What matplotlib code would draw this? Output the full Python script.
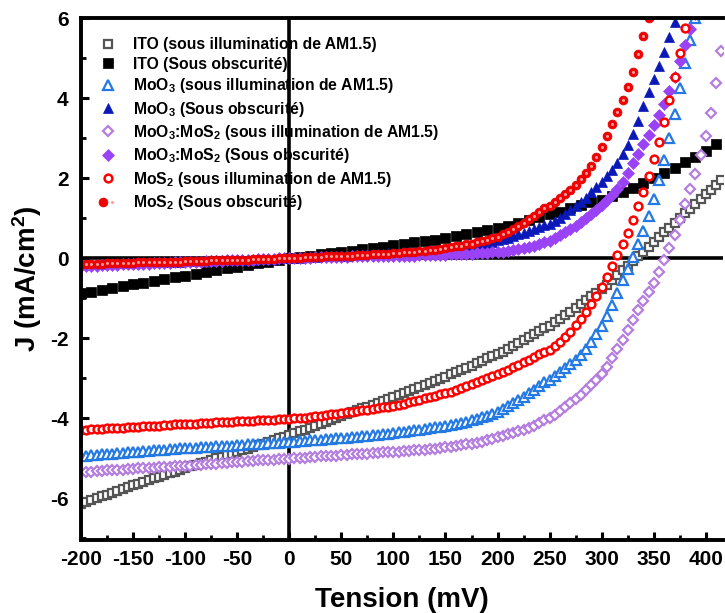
import numpy as np
import matplotlib
matplotlib.use("Agg")
import matplotlib.pyplot as plt
from matplotlib.legend_handler import HandlerTuple
from matplotlib.ticker import MultipleLocator

plt.rcParams['font.family'] = ['Liberation Sans', 'DejaVu Sans']
plt.rcParams['font.weight'] = 'bold'
plt.rcParams['axes.unicode_minus'] = False
plt.rcParams['mathtext.fontset'] = 'custom'
plt.rcParams['mathtext.rm'] = 'Liberation Sans:bold'
plt.rcParams['mathtext.it'] = 'Liberation Sans:bold'
plt.rcParams['mathtext.bf'] = 'Liberation Sans:bold'
plt.rcParams['mathtext.default'] = 'rm'

# voltage sweep (mV), 5 mV step; ITO dark curve was recorded every 10 mV
V5 = np.arange(-200, 420, 5)
V10 = np.arange(-200, 420, 10)

ito_light = [
    -6.15, -6.10, -6.06, -6.01, -5.96, -5.92, -5.87, -5.82, -5.78, -5.73,
    -5.68, -5.64, -5.59, -5.55, -5.51, -5.47, -5.42, -5.38, -5.34, -5.29,
    -5.25, -5.21, -5.17, -5.13, -5.09, -5.05, -5.01, -4.97, -4.93, -4.89,
    -4.85, -4.81, -4.77, -4.72, -4.68, -4.64, -4.60, -4.56, -4.51, -4.47,
    -4.43, -4.38, -4.33, -4.29, -4.24, -4.19, -4.14, -4.09, -4.05, -4.00,
    -3.95, -3.90, -3.86, -3.81, -3.76, -3.72, -3.67, -3.62, -3.58, -3.53,
    -3.48, -3.43, -3.38, -3.33, -3.28, -3.23, -3.17, -3.12, -3.07, -3.02,
    -2.97, -2.91, -2.86, -2.80, -2.74, -2.69, -2.63, -2.57, -2.51, -2.46,
    -2.40, -2.34, -2.27, -2.20, -2.13, -2.05, -1.98, -1.90, -1.82, -1.74,
    -1.69, -1.61, -1.52, -1.43, -1.34, -1.24, -1.15, -1.05, -0.96, -0.87,
    -0.78, -0.67, -0.55, -0.43, -0.31, -0.20, -0.08, 0.04, 0.16, 0.28,
    0.40, 0.52, 0.64, 0.76, 0.88, 1.00, 1.12, 1.23, 1.35, 1.47,
    1.59, 1.71, 1.83, 1.95]

ito_dark = [
    -0.88, -0.84, -0.79, -0.75, -0.70, -0.66, -0.62, -0.57, -0.53, -0.48,
    -0.44, -0.40, -0.35, -0.31, -0.26, -0.22, -0.18, -0.13, -0.09, -0.04,
    0.00, 0.03, 0.06, 0.09, 0.12, 0.15, 0.18, 0.22, 0.25, 0.28,
    0.32, 0.35, 0.39, 0.42, 0.46, 0.50, 0.55, 0.60, 0.64, 0.70,
    0.75, 0.81, 0.88, 0.95, 1.02, 1.09, 1.16, 1.24, 1.32, 1.40,
    1.46, 1.56, 1.66, 1.76, 1.88, 2.00, 2.12, 2.25, 2.39, 2.53,
    2.68, 2.84]

moo3_light = [
    -4.95, -4.94, -4.93, -4.92, -4.91, -4.90, -4.89, -4.88, -4.87, -4.86,
    -4.85, -4.84, -4.83, -4.82, -4.81, -4.80, -4.79, -4.78, -4.77, -4.76,
    -4.75, -4.74, -4.74, -4.73, -4.72, -4.72, -4.71, -4.70, -4.70, -4.69,
    -4.68, -4.67, -4.66, -4.66, -4.65, -4.64, -4.63, -4.62, -4.62, -4.61,
    -4.60, -4.59, -4.58, -4.57, -4.56, -4.55, -4.54, -4.53, -4.52, -4.51,
    -4.50, -4.49, -4.48, -4.47, -4.45, -4.44, -4.43, -4.42, -4.40, -4.39,
    -4.38, -4.36, -4.34, -4.32, -4.30, -4.29, -4.27, -4.25, -4.23, -4.22,
    -4.20, -4.18, -4.15, -4.12, -4.09, -4.05, -4.02, -3.98, -3.94, -3.90,
    -3.85, -3.78, -3.71, -3.63, -3.55, -3.47, -3.38, -3.29, -3.20, -3.10,
    -3.05, -2.95, -2.85, -2.75, -2.65, -2.55, -2.43, -2.28, -2.11, -1.91,
    -1.70, -1.46, -1.18, -0.87, -0.56, -0.27, 0.03, 0.34, 0.68, 1.06,
    1.47, 1.94, 2.45, 3.00, 3.61, 4.26, 4.88, 5.45, 6.01, 6.52]

moo3_dark = [
    -0.15, -0.15, -0.14, -0.14, -0.14, -0.13, -0.13, -0.13, -0.12, -0.12,
    -0.12, -0.11, -0.11, -0.11, -0.10, -0.10, -0.10, -0.09, -0.09, -0.09,
    -0.08, -0.08, -0.08, -0.07, -0.07, -0.07, -0.06, -0.06, -0.06, -0.05,
    -0.05, -0.04, -0.04, -0.04, -0.03, -0.03, -0.02, -0.02, -0.01, -0.01,
    0.00, 0.01, 0.01, 0.02, 0.03, 0.03, 0.04, 0.04, 0.05, 0.05,
    0.06, 0.06, 0.07, 0.08, 0.08, 0.09, 0.10, 0.10, 0.11, 0.12,
    0.12, 0.13, 0.14, 0.15, 0.16, 0.17, 0.18, 0.19, 0.20, 0.21,
    0.22, 0.24, 0.25, 0.27, 0.29, 0.31, 0.33, 0.36, 0.38, 0.41,
    0.44, 0.47, 0.51, 0.55, 0.59, 0.63, 0.67, 0.72, 0.77, 0.82,
    0.85, 0.92, 1.00, 1.09, 1.19, 1.29, 1.40, 1.51, 1.64, 1.77,
    1.90, 2.04, 2.20, 2.38, 2.59, 2.82, 3.09, 3.43, 3.79, 4.14,
    4.47, 4.81, 5.16, 5.53, 5.91, 6.29]

mix_light = [
    -5.35, -5.34, -5.34, -5.33, -5.32, -5.31, -5.31, -5.30, -5.29, -5.28,
    -5.27, -5.26, -5.26, -5.25, -5.24, -5.23, -5.23, -5.22, -5.21, -5.21,
    -5.20, -5.19, -5.18, -5.17, -5.16, -5.15, -5.14, -5.13, -5.12, -5.11,
    -5.10, -5.09, -5.08, -5.07, -5.06, -5.06, -5.05, -5.04, -5.03, -5.03,
    -5.02, -5.01, -5.00, -4.99, -4.98, -4.97, -4.96, -4.95, -4.94, -4.94,
    -4.93, -4.92, -4.91, -4.90, -4.90, -4.89, -4.88, -4.87, -4.86, -4.86,
    -4.85, -4.84, -4.83, -4.82, -4.81, -4.80, -4.79, -4.78, -4.77, -4.75,
    -4.73, -4.72, -4.70, -4.68, -4.66, -4.64, -4.62, -4.59, -4.56, -4.52,
    -4.48, -4.45, -4.41, -4.37, -4.33, -4.29, -4.24, -4.19, -4.13, -4.05,
    -4.01, -3.92, -3.82, -3.73, -3.63, -3.53, -3.42, -3.30, -3.18, -3.06,
    -2.90, -2.72, -2.51, -2.27, -2.04, -1.80, -1.56, -1.31, -1.07, -0.85,
    -0.62, -0.35, -0.05, 0.25, 0.57, 0.96, 1.35, 1.72, 2.10, 2.57,
    3.05, 3.62, 4.38, 5.18]

mix_dark = [
    -0.20, -0.20, -0.19, -0.19, -0.18, -0.18, -0.17, -0.17, -0.16, -0.16,
    -0.15, -0.15, -0.14, -0.14, -0.13, -0.13, -0.12, -0.12, -0.11, -0.11,
    -0.10, -0.10, -0.09, -0.09, -0.08, -0.08, -0.07, -0.07, -0.06, -0.06,
    -0.05, -0.05, -0.04, -0.04, -0.03, -0.03, -0.02, -0.02, -0.01, -0.01,
    0.00, 0.00, 0.01, 0.01, 0.01, 0.02, 0.02, 0.02, 0.03, 0.03,
    0.03, 0.03, 0.04, 0.04, 0.04, 0.04, 0.05, 0.05, 0.05, 0.05,
    0.05, 0.06, 0.06, 0.06, 0.06, 0.07, 0.07, 0.07, 0.08, 0.08,
    0.08, 0.09, 0.09, 0.10, 0.10, 0.11, 0.12, 0.12, 0.13, 0.14,
    0.15, 0.16, 0.18, 0.20, 0.22, 0.25, 0.28, 0.31, 0.35, 0.40,
    0.43, 0.50, 0.57, 0.65, 0.73, 0.81, 0.90, 1.00, 1.10, 1.21,
    1.33, 1.45, 1.57, 1.72, 1.90, 2.12, 2.37, 2.61, 2.84, 3.08,
    3.32, 3.57, 3.86, 4.18, 4.53, 4.92, 5.33, 5.72, 6.10]

mos2_light = [
    -4.30, -4.29, -4.28, -4.28, -4.27, -4.26, -4.25, -4.25, -4.24, -4.23,
    -4.22, -4.22, -4.21, -4.20, -4.19, -4.19, -4.18, -4.17, -4.16, -4.16,
    -4.15, -4.14, -4.14, -4.13, -4.12, -4.12, -4.11, -4.10, -4.10, -4.09,
    -4.08, -4.08, -4.07, -4.07, -4.06, -4.05, -4.05, -4.04, -4.03, -4.03,
    -4.02, -4.01, -4.00, -3.99, -3.97, -3.96, -3.95, -3.93, -3.91, -3.90,
    -3.88, -3.86, -3.85, -3.83, -3.81, -3.79, -3.77, -3.75, -3.73, -3.72,
    -3.70, -3.67, -3.64, -3.61, -3.58, -3.55, -3.51, -3.48, -3.45, -3.41,
    -3.38, -3.34, -3.30, -3.25, -3.21, -3.16, -3.11, -3.06, -3.01, -2.95,
    -2.90, -2.85, -2.79, -2.73, -2.67, -2.61, -2.54, -2.48, -2.41, -2.34,
    -2.30, -2.21, -2.10, -1.98, -1.84, -1.68, -1.52, -1.34, -1.15, -0.95,
    -0.72, -0.47, -0.21, 0.07, 0.35, 0.63, 0.95, 1.30, 1.66, 2.06,
    2.47, 2.91, 3.41, 3.95, 4.52, 5.13, 5.75, 6.36]

mos2_dark = [
    -0.15, -0.15, -0.14, -0.14, -0.14, -0.13, -0.13, -0.13, -0.12, -0.12,
    -0.12, -0.11, -0.11, -0.11, -0.10, -0.10, -0.10, -0.10, -0.09, -0.09,
    -0.08, -0.08, -0.08, -0.07, -0.07, -0.06, -0.06, -0.06, -0.05, -0.05,
    -0.05, -0.04, -0.04, -0.03, -0.03, -0.03, -0.02, -0.02, -0.01, -0.01,
    0.00, 0.01, 0.01, 0.02, 0.02, 0.03, 0.03, 0.04, 0.04, 0.05,
    0.05, 0.06, 0.06, 0.07, 0.07, 0.08, 0.09, 0.09, 0.10, 0.11,
    0.12, 0.13, 0.14, 0.15, 0.16, 0.17, 0.18, 0.20, 0.21, 0.23,
    0.25, 0.27, 0.29, 0.31, 0.34, 0.36, 0.39, 0.42, 0.46, 0.49,
    0.53, 0.59, 0.65, 0.72, 0.80, 0.88, 0.97, 1.06, 1.15, 1.25,
    1.30, 1.40, 1.50, 1.60, 1.71, 1.83, 1.97, 2.13, 2.31, 2.52,
    2.77, 3.04, 3.34, 3.64, 3.95, 4.28, 4.66, 5.09, 5.56, 6.01]

labels = [
    'ITO (sous illumination de AM1.5)',
    'ITO (Sous obscurité)',
    'MoO$_3$ (sous illumination de AM1.5)',
    'MoO$_3$ (Sous obscurité)',
    'MoO$_3$:MoS$_2$ (sous illumination de AM1.5)',
    'MoO$_3$:MoS$_2$ (Sous obscurité)',
    'MoS$_2$ (sous illumination de AM1.5)',
    'MoS$_2$ (Sous obscurité)',
]

fig = plt.figure(figsize=(7.25, 6.13), dpi=100)
ax = fig.add_axes([81 / 725, 73 / 613, 642 / 725, 522 / 613])

h = []
h += ax.plot(V5[:len(ito_light)], ito_light, 's', ms=5.2, mfc='white', mec='#555555', mew=1.6, ls='none')
h += ax.plot(V10[:len(ito_dark)], ito_dark, 's', ms=6.8, mfc='black', mec='black', mew=0.5, ls='none')
h += ax.plot(V5[:len(moo3_light)], moo3_light, '^', ms=6.8, mfc='white', mec='#2479e3', mew=1.6, ls='none')
h += ax.plot(V5[:len(moo3_dark)], moo3_dark, '^', ms=7, mfc='#0a18b8', mec='#0a18b8', mew=0.5, ls='none')
h += ax.plot(V5[:len(mix_light)], mix_light, 'D', ms=5.6, mfc='white', mec='#b47ee0', mew=1.6, ls='none')
h += ax.plot(V5[:len(mix_dark)], mix_dark, 'D', ms=6.2, mfc='#9a42f6', mec='#9a42f6', mew=0.5, ls='none')
h += ax.plot(V5[:len(mos2_light)], mos2_light, 'o', ms=5.6, mfc='white', mec='#ff0000', mew=1.8, ls='none')
d1, = ax.plot(V5[:len(mos2_dark)], mos2_dark, 'o', ms=6.4, mfc='#f00000', mec='#e00000', mew=0.5, ls='none')
d2, = ax.plot(V5[:len(mos2_dark)], mos2_dark, 'o', ms=2.2, mfc='#ff9c9c', mec='none', ls='none')
h.append((d1, d2))

ax.axhline(0, color='black', lw=2.6, zorder=0)
ax.axvline(0, color='black', lw=2.6, zorder=0)

ax.set_xlim(-200, 416.5)
ax.set_ylim(-7.05, 6)
ax.xaxis.set_major_locator(MultipleLocator(50))
ax.xaxis.set_minor_locator(MultipleLocator(25))
ax.yaxis.set_major_locator(MultipleLocator(2))
ax.yaxis.set_minor_locator(MultipleLocator(1))
ax.tick_params(which='major', direction='in', length=6, width=2.2, labelsize=15)
ax.tick_params(which='minor', direction='in', length=3.5, width=2.0)
ax.tick_params(axis='x', which='major', pad=7)
ax.tick_params(axis='y', which='major', pad=9)
ax.tick_params(top=False, right=False, which='both')
for lab in ax.get_xticklabels() + ax.get_yticklabels():
    lab.set_fontweight('bold')

for s in ['left', 'bottom', 'top']:
    ax.spines[s].set_linewidth(2.8)
ax.spines['right'].set_visible(False)

ax.set_xlabel('Tension (mV)', fontsize=20, fontweight='bold', labelpad=13)
ax.set_ylabel('J (mA/cm$^2$)', fontsize=20, fontweight='bold', labelpad=4)

ax.legend(h, labels, loc='upper left', bbox_to_anchor=(0.005, 0.99), frameon=False,
          prop={'size': 11.3, 'weight': 'bold'}, handlelength=1.2, handletextpad=1.0,
          labelspacing=0.28, borderaxespad=0.5,
          handler_map={tuple: HandlerTuple(ndivide=None, pad=0)})

fig.savefig('out.png', dpi=100)
